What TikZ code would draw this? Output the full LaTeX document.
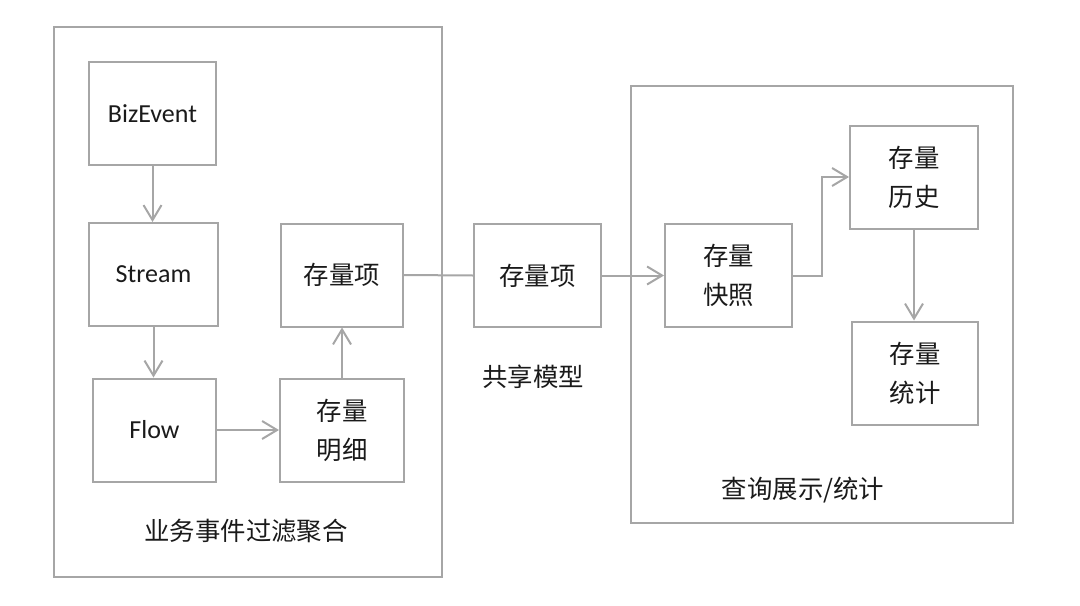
\documentclass[tikz,border=0pt]{standalone}
\usepackage{fontspec}
\setmainfont{Carlito}
\newfontfamily\cjk{Noto Sans CJK SC}
\usepackage{tikz}
\usetikzlibrary{arrows.meta,calc,positioning}
\definecolor{boxgray}{HTML}{A6A6A6}
\definecolor{txtgray}{HTML}{1A1A1A}

\begin{document}
\begin{tikzpicture}[
    x = 0.5pt, y = -0.5pt,
    line width = 1pt,
    box/.style   = { draw=boxgray, inner sep=0pt, align=center,
                     minimum width=#1, minimum height=103*0.5pt,
                     text=txtgray, font=\fontsize{13}{19.5}\selectfont },
    box/.default = 127*0.5pt,
    cbox/.style  = { box=#1, font=\cjk\fontsize{12.7}{19.5}\selectfont },
    cbox/.default = 127*0.5pt,
    frame/.style = { draw=boxgray },
    caption/.style = { text=txtgray, font=\cjk\fontsize{12.7}{14}\selectfont },
    flow line/.style = { draw=boxgray, -{Straight Barb[length=7.5pt,width=9pt]} },
    join line/.style = { draw=boxgray }
]
\useasboundingbox (0,0) rectangle (1080,605);

% groups
\draw[frame] (54,27)  rectangle (442,577);
\draw[frame] (631,86) rectangle (1013,523);
\node[caption] (capleft)  at (246,531) {业务事件过滤聚合};
\node[caption] (capmid)   at (533,377) {共享模型};
\node[caption] (capright) at (803,490) {查询展示/统计};

% left group
\node[box]             (bizevent) at (152.5,113.5) {BizEvent};
\node[box=129*0.5pt]   (stream)   at (153.5,274.5) {Stream};
\node[box=123*0.5pt]   (flow)     at (154.5,430)   {Flow};
\node[cbox=124*0.5pt]  (detail)   at (342,430)     {存量\\明细};
\node[cbox=122*0.5pt]  (itemL)    at (342,275)     {存量项};

% shared model
\node[cbox]            (itemM)    at (537.5,275.5) {存量项};

% right group
\node[cbox]            (snapshot) at (728.5,275.5) {存量\\快照};
\node[cbox=128*0.5pt]  (history)  at (914,177)     {存量\\历史};
\node[cbox=126*0.5pt]  (stats)    at (915,373)     {存量\\统计};

\draw[flow line] (bizevent.south) -- (bizevent.south |- stream.north);
\draw[flow line] (stream.south)   -- (stream.south |- flow.north);
\draw[flow line] (flow.east)      -- (flow.east -| detail.west);
\draw[flow line] (detail.north)   -- (detail.north |- itemL.south);
\draw[join line] (itemL.east)     -- (itemM.west);
\draw[flow line] (itemM.east)     -- (snapshot.west);
\draw[flow line] (snapshot.east)  --++ (29,0) |- (history.west);
\draw[flow line] (history.south)  -- (history.south |- stats.north);

\end{tikzpicture}
\end{document}
